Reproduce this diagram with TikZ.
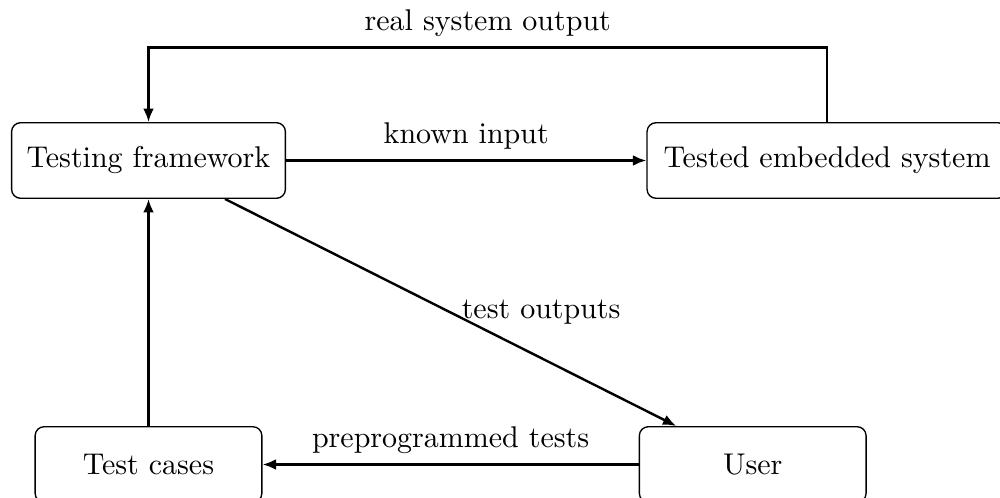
\documentclass[tikz,border=0pt]{standalone}
\usetikzlibrary{arrows.meta}
\begin{document}
\begin{tikzpicture}[x=0.011717cm, y=-0.011717cm,
  box/.style={draw, rounded corners=3pt, line width=0.45pt, minimum height=25.2pt, inner sep=3.33pt},
  conn/.style={line width=0.8pt, -{Latex[length=4.5pt,width=3.6pt]}}]
\useasboundingbox (0,0) rectangle (1000,497);
\node[box, minimum width=91.3pt] (tf) at (148.5,160.5) {Testing framework};
\node[box, minimum width=120pt] (tes) at (827,160.5) {Tested embedded system};
\node[box, minimum width=75.6pt] (tc) at (148.5,464.5) {Test cases};
\node[box, minimum width=75.6pt] (user) at (752.7,464.5) {User};
\coordinate (topy) at (0,47.7);
\draw[conn] (tf) -- node[above] {known input} (tes);
\draw[conn] (tes.north) -- (tes.north |- topy) -- node[above] {real system output} (tf.north |- topy) -- (tf.north);
\draw[conn] (tf) -- node[midway, right] {test outputs} (user);
\draw[conn] (user) -- node[above] {preprogrammed tests} (tc);
\draw[conn] (tc) -- (tf);
\end{tikzpicture}
\end{document}
